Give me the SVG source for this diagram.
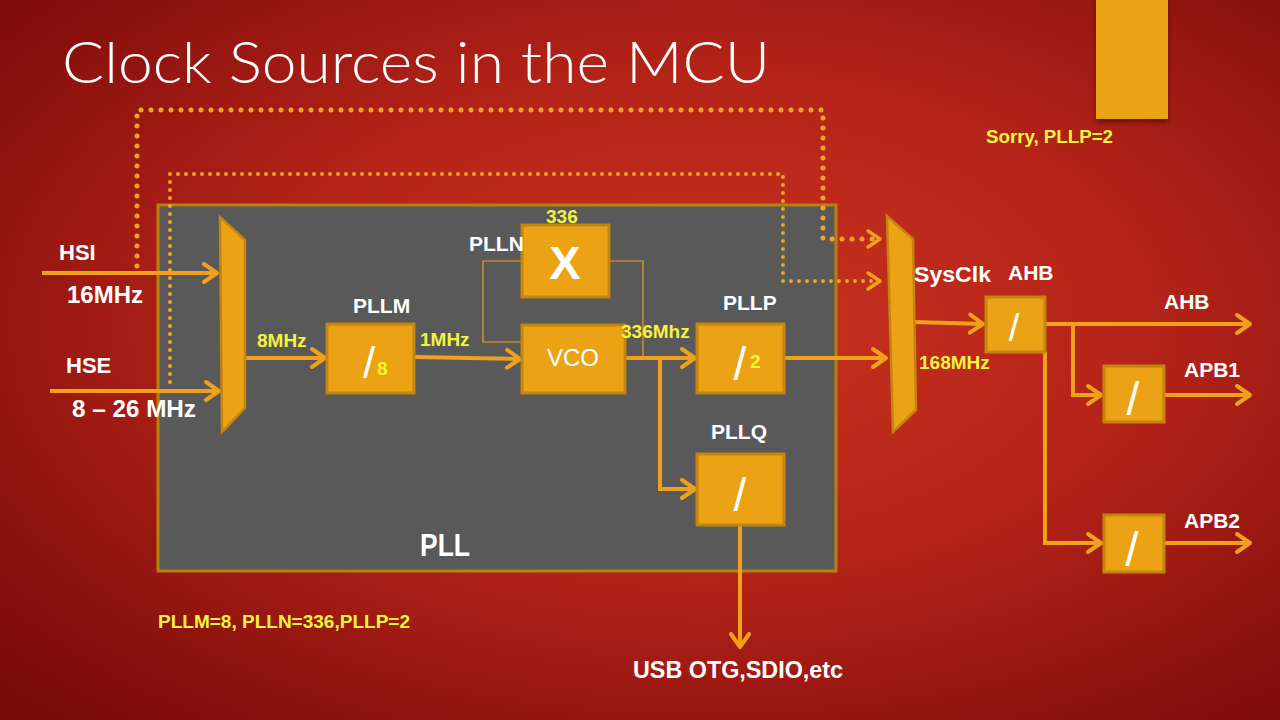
<svg xmlns="http://www.w3.org/2000/svg" width="1280" height="720" viewBox="0 0 1280 720">
<defs>
<radialGradient id="bg" cx="0.55" cy="0.45" r="0.75">
<stop offset="0" stop-color="#c9331f"/>
<stop offset="0.45" stop-color="#b52419"/>
<stop offset="1" stop-color="#780909"/>
</radialGradient>
<marker id="arr" markerUnits="userSpaceOnUse" viewBox="-18 -14 22 28" refX="0" refY="0" markerWidth="22" markerHeight="28" orient="auto">
<path d="M-13,-9 L0,0 L-13,9" fill="none" stroke="#EFA11C" stroke-width="4" stroke-linecap="round" stroke-linejoin="round"/>
</marker>
<marker id="darr" markerUnits="userSpaceOnUse" viewBox="-18 -14 22 28" refX="0" refY="0" markerWidth="22" markerHeight="28" orient="auto">
<path d="M-12,-8 L0,0 L-12,8" fill="none" stroke="#EFA11C" stroke-width="3.5" stroke-linecap="round" stroke-linejoin="round"/>
</marker>
<filter id="sh" x="-20%" y="-20%" width="140%" height="140%">
<feDropShadow dx="0" dy="3" stdDeviation="2" flood-color="#3a0000" flood-opacity="0.6"/>
</filter>
</defs>
<style>
.box{fill:#EBA315;stroke:#C4850F;stroke-width:3}
.mux{fill:#EBA315;stroke:#C4850F;stroke-width:2.5}
.wire{fill:none;stroke:#EFA11C;stroke-width:4}
.thin{fill:none;stroke:#EFA11C;stroke-width:1.2}
.dot1{fill:none;stroke:#F2A526;stroke-width:5;stroke-linecap:round;stroke-dasharray:0 10}
.dot2{fill:none;stroke:#F2A526;stroke-width:4;stroke-linecap:round;stroke-dasharray:0 8}
.w{font-family:"Liberation Sans",Arial,sans-serif;font-weight:bold;fill:#ffffff;font-size:21px}
.y{font-family:"Liberation Sans",Arial,sans-serif;font-weight:bold;fill:#F4F43A;font-size:19px}
.sl{font-family:"Liberation Sans",Arial,sans-serif;fill:#ffffff;font-size:44px;text-anchor:middle}
</style>
<rect x="0" y="0" width="1280" height="720" fill="url(#bg)"/>
<g id="corner-tab"><rect x="1096" y="-4" width="72" height="123" fill="#EBA315" filter="url(#sh)"/></g>
<text x="62" y="83" font-family="Lato,'Open Sans',sans-serif" font-weight="300" font-size="57" fill="#ffffff" textLength="708" lengthAdjust="spacingAndGlyphs">Clock Sources in the MCU</text>

<g id="pll-box">
<rect x="158" y="205" width="678" height="366" fill="#595959" stroke="#B8800E" stroke-width="3"/>
<text x="420" y="556" class="w" style="font-size:32px" textLength="50" lengthAdjust="spacingAndGlyphs">PLL</text>
</g>

<g id="connectors">
<path class="dot1" d="M137,266 V110 H823 V239 H880" marker-end="url(#darr)"/>
<path class="dot2" d="M170,382 V174 H783 V281 H880" marker-end="url(#darr)"/>
<path class="wire" d="M42,273 H217" marker-end="url(#arr)"/>
<path class="wire" d="M50,391 H219" marker-end="url(#arr)"/>
<path class="wire" d="M245,358 H325" marker-end="url(#arr)"/>
<path class="wire" d="M414,357 L520,359" marker-end="url(#arr)"/>
<path class="wire" d="M625,358 H695" marker-end="url(#arr)"/>
<path class="wire" d="M660,358 V489 H695" marker-end="url(#arr)"/>
<path class="wire" d="M784,358 H886" marker-end="url(#arr)"/>
<path class="wire" d="M740,525 V647" marker-end="url(#arr)"/>
<path class="wire" d="M913,322 L983,324" marker-end="url(#arr)"/>
<path class="wire" d="M1045,324 H1250" marker-end="url(#arr)"/>
<path class="wire" d="M1073,324 V395 H1101" marker-end="url(#arr)"/>
<path class="wire" d="M1164,395 H1250" marker-end="url(#arr)"/>
<path class="wire" d="M1045,352 V543 H1101" marker-end="url(#arr)"/>
<path class="wire" d="M1164,543 H1250" marker-end="url(#arr)"/>
<path class="thin" d="M522,261 H483 V342 H522"/>
<path class="thin" d="M609,261 H643 V358"/>
</g>

<g id="inputs">
<text x="59" y="260" class="w" style="font-size:22px">HSI</text>
<text x="67" y="303" class="w" style="font-size:23px" textLength="76" lengthAdjust="spacingAndGlyphs">16MHz</text>
<text x="66" y="373" class="w" style="font-size:22px">HSE</text>
<text x="72" y="417" class="w" style="font-size:23px" textLength="124" lengthAdjust="spacingAndGlyphs">8 – 26 MHz</text>
</g>

<g id="mux1">
<polygon class="mux" points="220,217 245,240 245,408 222,432"/>
<text x="257" y="347" class="y">8MHz</text>
</g>

<g id="pllm">
<rect class="box" x="327" y="324" width="87" height="69"/>
<text x="369" y="378" class="sl">/</text>
<text x="377" y="375" class="y">8</text>
<text x="353" y="313" class="w">PLLM</text>
<text x="420" y="346" class="y">1MHz</text>
</g>

<g id="plln">
<rect class="box" x="522" y="225" width="87" height="72"/>
<text x="565" y="279" font-family="Liberation Sans,Arial,sans-serif" font-weight="bold" font-size="47" fill="#ffffff" text-anchor="middle">X</text>
<text x="546" y="223" class="y">336</text>
<text x="469" y="251" class="w">PLLN</text>
</g>

<g id="vco">
<rect class="box" x="522" y="325" width="103" height="68"/>
<text x="573" y="366" font-family="Liberation Sans,Arial,sans-serif" font-size="24" fill="#ffffff" text-anchor="middle">VCO</text>
<text x="621" y="338" class="y">336Mhz</text>
</g>

<g id="pllp">
<rect class="box" x="697" y="324" width="87" height="69"/>
<text x="740" y="380" class="sl" style="font-size:46px">/</text>
<text x="750" y="368" class="y">2</text>
<text x="723" y="310" class="w">PLLP</text>
</g>

<g id="pllq">
<rect class="box" x="697" y="454" width="87" height="71"/>
<text x="740" y="511" class="sl" style="font-size:46px">/</text>
<text x="711" y="439" class="w">PLLQ</text>
<text x="633" y="678" class="w" style="font-size:23px" textLength="210" lengthAdjust="spacingAndGlyphs">USB OTG,SDIO,etc</text>
</g>

<g id="mux2">
<polygon class="mux" points="887,216 913,239 916,410 893,432"/>
<text x="914" y="282" class="w" style="font-size:22px" textLength="77" lengthAdjust="spacingAndGlyphs">SysClk</text>
<text x="919" y="369" class="y">168MHz</text>
</g>

<g id="ahb">
<rect class="box" x="986" y="297" width="59" height="55"/>
<text x="1014" y="341" class="sl" style="font-size:38px">/</text>
<text x="1008" y="280" class="w">AHB</text>
<text x="1164" y="309" class="w">AHB</text>
</g>

<g id="apb1">
<rect class="box" x="1104" y="366" width="60" height="56"/>
<text x="1133" y="415" class="sl" style="font-size:46px">/</text>
<text x="1184" y="377" class="w">APB1</text>
</g>

<g id="apb2">
<rect class="box" x="1104" y="515" width="60" height="57"/>
<text x="1132" y="566" class="sl" style="font-size:48px">/</text>
<text x="1184" y="528" class="w">APB2</text>
</g>

<text x="986" y="143" class="y" textLength="127" lengthAdjust="spacingAndGlyphs">Sorry, PLLP=2</text>
<text x="158" y="628" class="y" textLength="252" lengthAdjust="spacingAndGlyphs">PLLM=8, PLLN=336,PLLP=2</text>
</svg>
